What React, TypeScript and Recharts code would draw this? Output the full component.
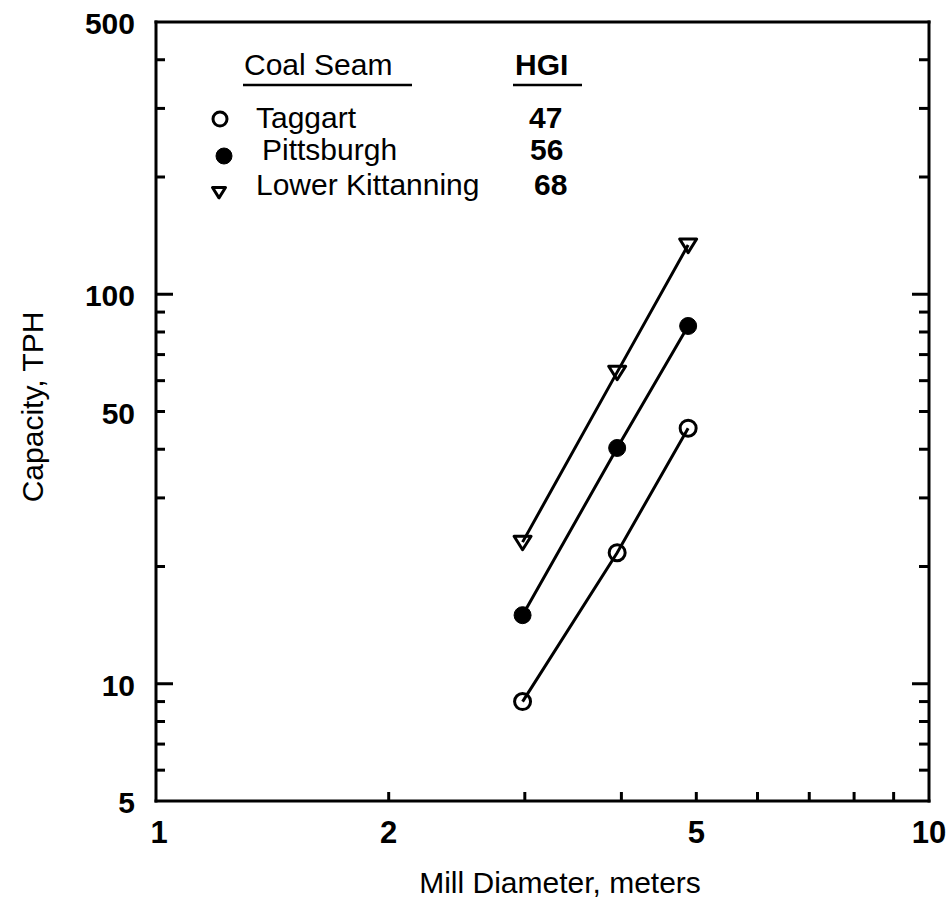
import React from 'react';
import { ScatterChart, Scatter, XAxis, YAxis, Legend } from 'recharts';

// ---- data ----
const diameters = [2.98, 3.95, 4.88];
const taggart = [9.0, 21.7, 45.3];
const pittsburgh = [15.0, 40.3, 82.9];
const lowerKittanning = [23.1, 63.1, 133.8];
const seamNames = ['Taggart', 'Pittsburgh', 'Lower Kittanning'];
const hgiValues = ['47', '56', '68'];

const xTicks = [1, 2, 3, 4, 5, 6, 7, 8, 9, 10];
const xTickLabels = [1, 2, 5, 10];
const yTicks = [5, 6, 7, 8, 9, 10, 20, 30, 40, 50, 60, 70, 80, 90, 100, 200, 300, 400, 500];
const yTickLabels = [5, 10, 50, 100, 500];
const yMajorTicks = [10, 100];

const toPoints = (ys: number[]) => diameters.map((x, i) => ({ x, y: ys[i] }));
const taggartData = toPoints(taggart);
const pittsburghData = toPoints(pittsburgh);
const kittanningData = toPoints(lowerKittanning);

const FONT = '"Liberation Sans", Arial, Helvetica, sans-serif';
const INK = '#000';

// ---- markers ----
const OpenCircle = (props: any) => {
  const { cx, cy, r = 8 } = props;
  if (cx == null || cy == null) return null;
  return <circle cx={cx} cy={cy} r={r} fill="none" stroke={INK} strokeWidth={3} />;
};
const FilledCircle = (props: any) => {
  const { cx, cy, r = 8.5 } = props;
  if (cx == null || cy == null) return null;
  return <circle cx={cx} cy={cy} r={r} fill={INK} stroke={INK} strokeWidth={1} />;
};
const DownTriangle = (props: any) => {
  const { cx, cy, s = 8.5 } = props;
  if (cx == null || cy == null) return null;
  const pts = `${cx - s},${cy - s * 0.7} ${cx + s},${cy - s * 0.7} ${cx},${cy + s * 0.9}`;
  return <polygon points={pts} fill="none" stroke={INK} strokeWidth={3} strokeLinejoin="round" />;
};

// ---- ticks ----
const BottomTick = (props: any) => {
  const { x, y, payload } = props;
  const v = payload.value;
  const edge = v === 1 || v === 10;
  return (
    <g>
      {!edge && <line x1={x} x2={x} y1={y} y2={y - 9} stroke={INK} strokeWidth={3} />}
      {xTickLabels.includes(v) && (
        <text x={x + (v === 1 ? 3 : 0)} y={y + 42} textAnchor="middle" fontSize={31} fontWeight="bold" fontFamily={FONT} fill={INK}>
          {v}
        </text>
      )}
    </g>
  );
};
const TopTick = (props: any) => {
  const { x, y, payload } = props;
  const v = payload.value;
  if (v === 1 || v === 10) return <g />;
  return <line x1={x} x2={x} y1={y} y2={y + 10} stroke={INK} strokeWidth={3} />;
};
const LeftTick = (props: any) => {
  const { x, y, payload } = props;
  const v = payload.value;
  const edge = v === 5 || v === 500;
  const len = yMajorTicks.includes(v) ? 17 : 9;
  return (
    <g>
      {!edge && <line x1={x} x2={x + len} y1={y} y2={y} stroke={INK} strokeWidth={3} />}
      {yTickLabels.includes(v) && (
        <text x={x - 21} y={y + 12} textAnchor="end" fontSize={30} fontWeight="bold" fontFamily={FONT} fill={INK}>
          {v}
        </text>
      )}
    </g>
  );
};
const RightTick = (props: any) => {
  const { x, y, payload } = props;
  const v = payload.value;
  if (v === 5 || v === 500) return <g />;
  const len = yMajorTicks.includes(v) ? 17 : 10;
  return <line x1={x} x2={x - len} y1={y} y2={y} stroke={INK} strokeWidth={3} />;
};

// ---- titles ----
const YTitle = () => (
  <text transform="translate(43,407) rotate(-90)" textAnchor="middle" fontSize={30} fontFamily={FONT} fill={INK}>
    Capacity, TPH
  </text>
);
const XTitle = () => (
  <text x={560} y={893} textAnchor="middle" fontSize={30} fontFamily={FONT} fill={INK}>
    Mill Diameter, meters
  </text>
);

// ---- legend (table inside the plot) ----
const markerFor = [OpenCircle, FilledCircle, DownTriangle];
const legendSymbolY = [119, 156, 192];
const legendBaseY = [128, 160, 195];
const legendNameX = [256, 262, 256];
const legendNumX = [529, 530, 534];

const LegendTable = () => (
  <svg width={952} height={220} style={{ display: 'block' }}>
    <text x={244} y={75} fontSize={30} fontFamily={FONT} fill={INK}>Coal Seam</text>
    <line x1={243} x2={412} y1={85} y2={85} stroke={INK} strokeWidth={2.5} />
    <text x={515} y={75} fontSize={30} fontWeight="bold" fontFamily={FONT} fill={INK}>HGI</text>
    <line x1={513} x2={582} y1={85} y2={85} stroke={INK} strokeWidth={2.5} />
    {seamNames.map((name, i) => {
      const M = markerFor[i];
      return (
        <g key={name}>
          {i === 0 && <M cx={220} cy={legendSymbolY[i]} r={7} />}
          {i === 1 && <M cx={224} cy={legendSymbolY[i]} r={8} />}
          {i === 2 && <M cx={219} cy={legendSymbolY[i]} s={6.5} />}
          <text x={legendNameX[i]} y={legendBaseY[i]} fontSize={30} fontFamily={FONT} fill={INK}>{name}</text>
          <text x={legendNumX[i]} y={legendBaseY[i]} fontSize={30} fontWeight="bold" fontFamily={FONT} fill={INK}>{hgiValues[i]}</text>
        </g>
      );
    })}
  </svg>
);

const axisLine = { stroke: INK, strokeWidth: 3, strokeLinecap: 'square' as const };
const lineStyle = { stroke: INK, strokeWidth: 3 };

export default function App() {
  return (
    <div style={{ position: 'absolute', left: 0, top: 0, width: 952, height: 905, background: '#fff' }}>
      <ScatterChart width={952} height={905} margin={{ top: 0, right: 0, bottom: 0, left: 0 }}>
        <XAxis
          xAxisId="bottom"
          dataKey="x"
          type="number"
          scale="log"
          domain={[1, 10]}
          allowDataOverflow
          ticks={xTicks}
          interval={0}
          orientation="bottom"
          height={104}
          tickSize={0}
          tickMargin={0}
          tickLine={false}
          axisLine={axisLine}
          tick={<BottomTick />}
          label={<XTitle />}
        />
        <XAxis
          xAxisId="top"
          type="number"
          scale="log"
          domain={[1, 10]}
          allowDataOverflow
          ticks={xTicks}
          interval={0}
          orientation="top"
          height={22}
          tickSize={0}
          tickMargin={0}
          tickLine={false}
          axisLine={axisLine}
          tick={<TopTick />}
        />
        <YAxis
          yAxisId="left"
          dataKey="y"
          type="number"
          scale="log"
          domain={[5, 500]}
          allowDataOverflow
          ticks={yTicks}
          interval={0}
          orientation="left"
          width={156}
          tickSize={0}
          tickMargin={0}
          tickLine={false}
          axisLine={axisLine}
          tick={<LeftTick />}
          label={<YTitle />}
        />
        <YAxis
          yAxisId="right"
          type="number"
          scale="log"
          domain={[5, 500]}
          allowDataOverflow
          ticks={yTicks}
          interval={0}
          orientation="right"
          width={23}
          tickSize={0}
          tickMargin={0}
          tickLine={false}
          axisLine={axisLine}
          tick={<RightTick />}
        />
        <Legend
          layout="vertical"
          align="center"
          verticalAlign="middle"
          wrapperStyle={{ position: 'absolute', left: 0, top: 0, width: 952, height: 220, pointerEvents: 'none' }}
          content={() => <LegendTable />}
        />
        <Scatter
          name="Taggart"
          data={taggartData}
          xAxisId="bottom"
          yAxisId="left"
          line={lineStyle}
          shape={(p: any) => <OpenCircle {...p} r={8} />}
          isAnimationActive={false}
        />
        <Scatter
          name="Pittsburgh"
          data={pittsburghData}
          xAxisId="bottom"
          yAxisId="left"
          line={lineStyle}
          shape={(p: any) => <FilledCircle {...p} r={8.5} />}
          isAnimationActive={false}
        />
        <Scatter
          name="Lower Kittanning"
          data={kittanningData}
          xAxisId="bottom"
          yAxisId="left"
          line={lineStyle}
          shape={(p: any) => <DownTriangle {...p} s={8.5} />}
          isAnimationActive={false}
        />
      </ScatterChart>
    </div>
  );
}
